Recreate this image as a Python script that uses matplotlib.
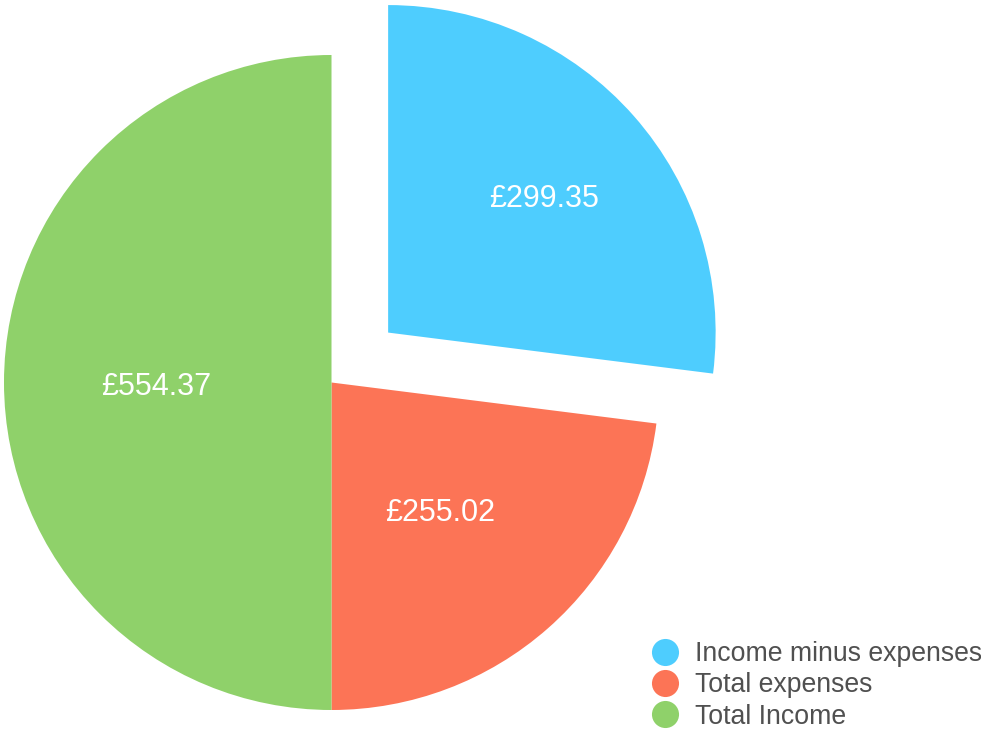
import numpy as np
import matplotlib.pyplot as plt
from matplotlib.lines import Line2D

# Data
labels = ["Income minus expenses", "Total expenses", "Total Income"]
values = [299.35, 255.02, 554.37]
colors = ["#4ecdfe", "#fc7456", "#8fd16a"]
explode = [75.5, 0, 0]            # pixels, matplotlib does not scale it by radius
label_dist = [0.64, 0.51, 0.53]   # where the value text sits, fraction of radius

plt.rcParams['font.family'] = ['Liberation Sans', 'DejaVu Sans']

fig = plt.figure(figsize=(9.81, 7.31), dpi=100)
ax = fig.add_axes([0, 0, 1, 1])

cx, cy, r = 331.5, 731 - 382.5, 327.5
wedges, _ = ax.pie(values, colors=colors, explode=explode, startangle=90,
                   counterclock=False, center=(cx, cy), radius=r, frame=True,
                   wedgeprops=dict(linewidth=0, antialiased=True))
ax.set_xlim(0, 981)
ax.set_ylim(0, 731)
ax.axis('off')

# value labels on the slices
for w, v, d in zip(wedges, values, label_dist):
    mid = np.deg2rad((w.theta1 + w.theta2) / 2)
    ox, oy = w.center
    ax.annotate(f"£{v:.2f}", (ox + d * r * np.cos(mid), oy + d * r * np.sin(mid)),
                xytext=(-1, -3.5), textcoords="offset points",
                color="white", fontsize=22, ha="center", va="center")

# legend with round markers
handles = [Line2D([], [], marker='o', linestyle='none', markersize=19.5,
                  markerfacecolor=c, markeredgewidth=0) for c in colors]
ax.legend(handles, labels, loc='upper left', bbox_to_anchor=(652 / 981, 1 - 641 / 731),
          frameon=False, fontsize=19.2, labelcolor='#505050', handlelength=1.0,
          handletextpad=0.62, labelspacing=0.2, borderpad=0, borderaxespad=0)

plt.savefig("out.png", dpi=100)
